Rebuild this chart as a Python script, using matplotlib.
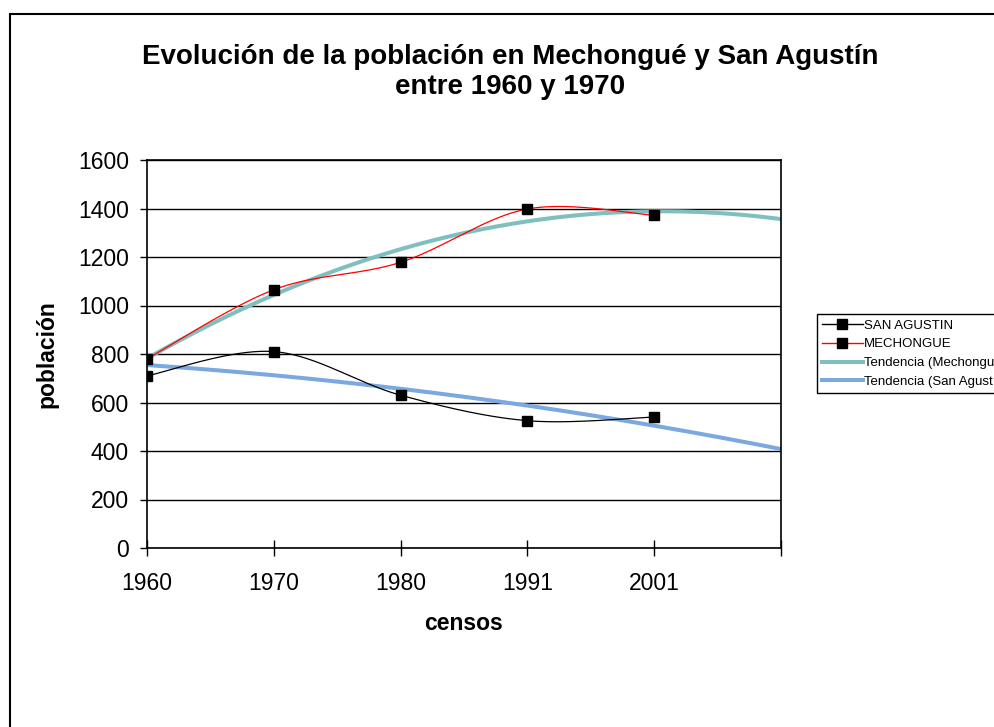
import numpy as np
import matplotlib
matplotlib.use("Agg")
import matplotlib.pyplot as plt
from matplotlib.patches import Rectangle
from matplotlib.lines import Line2D

plt.rcParams['font.family'] = ['Liberation Sans', 'DejaVu Sans']

censos = ["1960", "1970", "1980", "1991", "2001"]
san_agustin = [710, 810, 630, 525, 540]
mechongue = [780, 1065, 1178, 1398, 1372]

teal = "#7fbfbf"
blue = "#7aa8e0"


def smooth(y, n=40):
    # Excel-like smoothed line: Catmull-Rom bezier between points
    p = np.array(y, dtype=float)
    x = np.arange(len(p), dtype=float)
    pts = np.column_stack([x, p])
    out = []
    for i in range(len(pts) - 1):
        p0 = pts[max(i - 1, 0)]
        p1 = pts[i]
        p2 = pts[i + 1]
        p3 = pts[min(i + 2, len(pts) - 1)]
        c1 = p1 + (p2 - p0) / 6
        c2 = p2 - (p3 - p1) / 6
        t = np.linspace(0, 1, n)[:, None]
        seg = ((1 - t) ** 3) * p1 + 3 * ((1 - t) ** 2) * t * c1 + 3 * (1 - t) * t ** 2 * c2 + t ** 3 * p2
        out.append(seg if i == 0 else seg[1:])
    seg = np.vstack(out)
    return seg[:, 0], seg[:, 1]


def trend(y, xmax):
    # polynomial (order 2) trend line, extended one period forward
    x = np.arange(len(y))
    coef = np.polyfit(x, y, 2)
    xx = np.linspace(0, xmax, 200)
    return xx, np.polyval(coef, xx)


fig = plt.figure(figsize=(9.95, 7.27), dpi=100)
ax = fig.add_axes([147 / 995, 1 - 548 / 727, 634 / 995, 388 / 727])

xmax = len(censos)
tx, ty = trend(mechongue, xmax)
ax.plot(tx, ty, color=teal, lw=2.9, zorder=2)
tx, ty = trend(san_agustin, xmax)
ax.plot(tx, ty, color=blue, lw=2.9, zorder=2)

sx, sy = smooth(san_agustin)
ax.plot(sx, sy, color="black", lw=0.9, zorder=3)
sx, sy = smooth(mechongue)
ax.plot(sx, sy, color="red", lw=0.9, zorder=3)

xs = np.arange(len(censos))
ax.plot(xs, san_agustin, ls="none", marker="s", ms=7, color="black", zorder=4)
ax.plot(xs, mechongue, ls="none", marker="s", ms=7, color="black", zorder=4)

ax.set_xlim(0, xmax)
ax.set_ylim(0, 1600)
ax.set_yticks(np.arange(0, 1601, 200))
ax.set_xticks(np.arange(0, xmax + 1))
ax.set_xticklabels(censos + [""])
ax.yaxis.grid(True, color="black", lw=1)
ax.set_axisbelow(True)
ax.tick_params(axis="y", direction="out", length=5, width=1, labelsize=16.5, pad=8)
ax.tick_params(axis="x", direction="inout", length=11, width=1, labelsize=16.5, pad=12)
for s in ax.spines.values():
    s.set_color("black")
    s.set_linewidth(1.2)

ax.set_xlabel("censos", fontsize=16.5, fontweight="bold", labelpad=12)
ax.set_ylabel("población", fontsize=16.5, fontweight="bold", labelpad=14)

fig.text(510 / 995, 1 - 72 / 727, "Evolución de la población en Mechongué y San Agustín\nentre 1960 y 1970",
         ha="center", va="center", fontsize=20, fontweight="bold", linespacing=1.25)

handles = [
    Line2D([], [], color="black", lw=1, marker="s", ms=7),
    Line2D([], [], color="red", lw=1, marker="s", ms=7, mfc="black", mec="black"),
    Line2D([], [], color=teal, lw=2.9),
    Line2D([], [], color=blue, lw=2.9),
]
labels = ["SAN AGUSTIN", "MECHONGUE", "Tendencia (Mechongué)", "Tendencia (San Agustín)"]
leg = fig.legend(handles, labels, loc="upper left", bbox_to_anchor=(817 / 995, 1 - 314 / 727),
                 fontsize=9.5, frameon=True, fancybox=False, edgecolor="black", framealpha=1,
                 borderaxespad=0, handlelength=3.05, handletextpad=0.1, labelspacing=0.5,
                 borderpad=0.4)
leg.get_frame().set_linewidth(1)

fig.patches.append(Rectangle((10 / 995, -0.1), 1.2, 1.1 - 14 / 727, transform=fig.transFigure,
                             fill=False, edgecolor="black", lw=1.5))

fig.savefig("out.png", dpi=100)
